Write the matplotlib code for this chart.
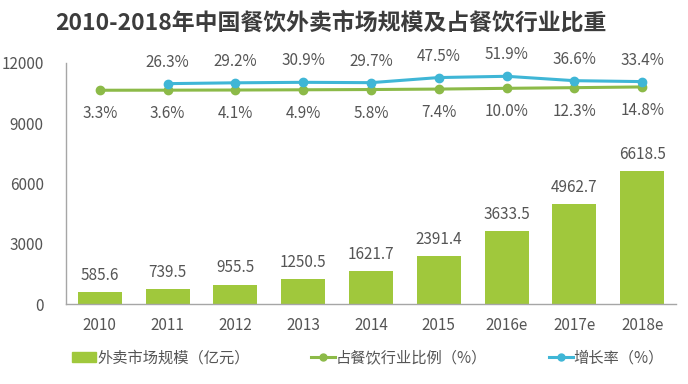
import matplotlib
matplotlib.use('Agg')
import matplotlib.pyplot as plt
from matplotlib.patches import Patch
from matplotlib.lines import Line2D

plt.rcParams['font.family'] = ['Noto Sans CJK SC', 'DejaVu Sans']

years = ['2010', '2011', '2012', '2013', '2014', '2015', '2016e', '2017e', '2018e']
market = [585.6, 739.5, 955.5, 1250.5, 1621.7, 2391.4, 3633.5, 4962.7, 6618.5]
share = [3.3, 3.6, 4.1, 4.9, 5.8, 7.4, 10.0, 12.3, 14.8]
growth = [None, 26.3, 29.2, 30.9, 29.7, 47.5, 51.9, 36.6, 33.4]

bar_c = '#a0c83c'
share_c = '#8cba48'
growth_c = '#3fb6d6'
txt_c = '#555555'

fig = plt.figure(figsize=(6.88, 3.84), dpi=100)
ax = fig.add_axes([0.0959, 0.2083, 0.8867, 0.6277])
x = list(range(len(years)))

ax.bar(x, market, width=0.65, color=bar_c, zorder=2)
for i, v in enumerate(market):
    ax.annotate(f'{v:.1f}', (i, v), xytext=(0, 6), textcoords='offset points',
                ha='center', va='bottom', fontsize=11, color=txt_c)

ax.set_xlim(-0.5, 8.5)
ax.set_ylim(0, 12000)
ax.set_yticks([0, 3000, 6000, 9000, 12000])
ax.set_xticks(x)
ax.set_xticklabels(years)
ax.tick_params(axis='both', length=0, labelsize=11, labelcolor=txt_c)
ax.tick_params(axis='y', pad=16)
ax.tick_params(axis='x', pad=9)
for s in ['top', 'right']:
    ax.spines[s].set_visible(False)
for s in ['left', 'bottom']:
    ax.spines[s].set_color('#a6a6a6')
    ax.spines[s].set_linewidth(1)

# percentages on a hidden second scale
ax2 = ax.twinx()
ax2.set_ylim(-740.9, 98.25)
ax2.axis('off')
ax2.plot(x, share, color=share_c, lw=2.2, marker='o', ms=6, zorder=3)
gx = [i for i, g in enumerate(growth) if g is not None]
gv = [g for g in growth if g is not None]
ax2.plot(gx, gv, color=growth_c, lw=2.2, marker='o', ms=6, zorder=4)
for i, v in enumerate(share):
    ax2.annotate(f'{v:.1f}%', (i, v), xytext=(0, -17), textcoords='offset points',
                 ha='center', va='center', fontsize=11, color=txt_c)
for i, v in zip(gx, gv):
    ax2.annotate(f'{v:.1f}%', (i, v), xytext=(0, 15.5), textcoords='offset points',
                 ha='center', va='center', fontsize=11, color=txt_c, annotation_clip=False)

fig.text(0.481, 0.94, '2010-2018年中国餐饮外卖市场规模及占餐饮行业比重',
         ha='center', va='center', fontsize=16.5, fontweight='bold', color='#3c3c3c')

handles = [
    Patch(color=bar_c),
    Line2D([], [], color=share_c, lw=2.2, marker='o', ms=5),
    Line2D([], [], color=growth_c, lw=2.2, marker='o', ms=5),
]
labels = ['外卖市场规模（亿元）', '占餐饮行业比例（%）', '增长率（%）']
fig.legend(handles, labels, loc='center', bbox_to_anchor=(0.535, 0.068), ncol=3,
           frameon=False, fontsize=11, handlelength=1.6, handleheight=0.7,
           handletextpad=0.05, columnspacing=4.0, labelcolor=txt_c)

fig.savefig('out.png', dpi=100)
